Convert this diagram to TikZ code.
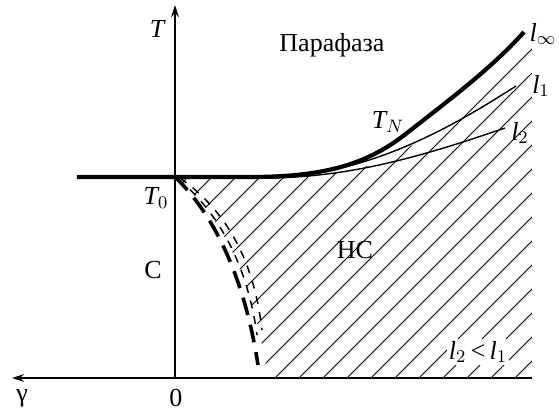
\documentclass[tikz,border=0pt]{standalone}
\usepackage{fontspec}
\setmainfont{Liberation Serif}
\usetikzlibrary{arrows.meta}

\begin{document}
\begin{tikzpicture}[
	x=0.5pt, y=-0.5pt,
	axis/.style={line width=1pt, -{Stealth[length=6pt, width=3.8pt]}},
	phaseline/.style={line width=2.1pt},
	thinline/.style={line width=0.7pt},
	hatchline/.style={line width=0.45pt},
	thickdash/.style={line width=1.8pt, dash pattern=on 9pt off 5pt},
	thindash/.style={line width=0.75pt, dash pattern=on 4pt off 4pt},
	lbl/.style={font=\fontsize{13}{15}\selectfont, inner sep=1pt}
	]
	\useasboundingbox (0,0) rectangle (559,414);
	\coordinate (O) at (175,378);
	\coordinate (Ttip) at (175,5);
	\coordinate (gtip) at (12,378);
	\coordinate (xend) at (532,378);
	\coordinate (T0) at (175,177);
	
	\begin{scope}
		\clip (T0) -- (255,178) .. controls (335,179) and (378,168) .. (414,144) .. controls (452,117) and (496,84) .. (532,46) -- (532,378) -- (268,378) .. controls (255,290) and (225,215) .. (T0) -- cycle;
		\foreach \c in {341,365,...,941}
			\draw[hatchline] (\c-420,420) -- (\c,0);
	\end{scope}
	
	\draw[axis] (O) -- (Ttip);
	\draw[axis] (xend) -- (gtip);
	
	\draw[phaseline] (77,177) -- (250,177) .. controls (330,177) and (370,162) .. (407,133) .. controls (445,103) and (490,70) .. (524,32);
	\draw[thinline] (260,178) .. controls (360,177) and (440,135) .. (516,86);
	\draw[thinline] (270,178) .. controls (360,177) and (440,150) .. (505,128);
	
	\draw[thickdash] (T0) .. controls (215,215) and (245,280) .. (258,365);
	\draw[thindash] (178,179) .. controls (220,213) and (248,268) .. (257,335);
	\draw[thindash] (180,178) .. controls (228,212) and (254,262) .. (262,330);
	
	\node[lbl] (Tlab) at (157,29) {\itshape T};
	\node[lbl] (gamma) at (22,398) {γ};
	\node[lbl] (zero) at (176,398) {0};
	\node[lbl] (T0lab) at (156,198) {{\itshape T}$_0$};
	\node[lbl] (para) at (332,45) {Парафаза};
	\node[lbl] (TN) at (388,122) {{\itshape T}$_N$};
	\node[lbl] (linf) at (543,34) {{\itshape l}$_\infty$};
	\node[lbl] (l1) at (541,86) {{\itshape l}$_1$};
	\node[lbl] (l2) at (520,133) {{\itshape l}$_2$};
	\node[lbl] (C) at (153,270) {С};
	\node[lbl] (NC) at (355,250) {НС};
	\node[lbl, fill=white] (ineq) at (478,352) {{\itshape l}$_2$\,<\,{\itshape l}$_1$};
\end{tikzpicture}
\end{document}
